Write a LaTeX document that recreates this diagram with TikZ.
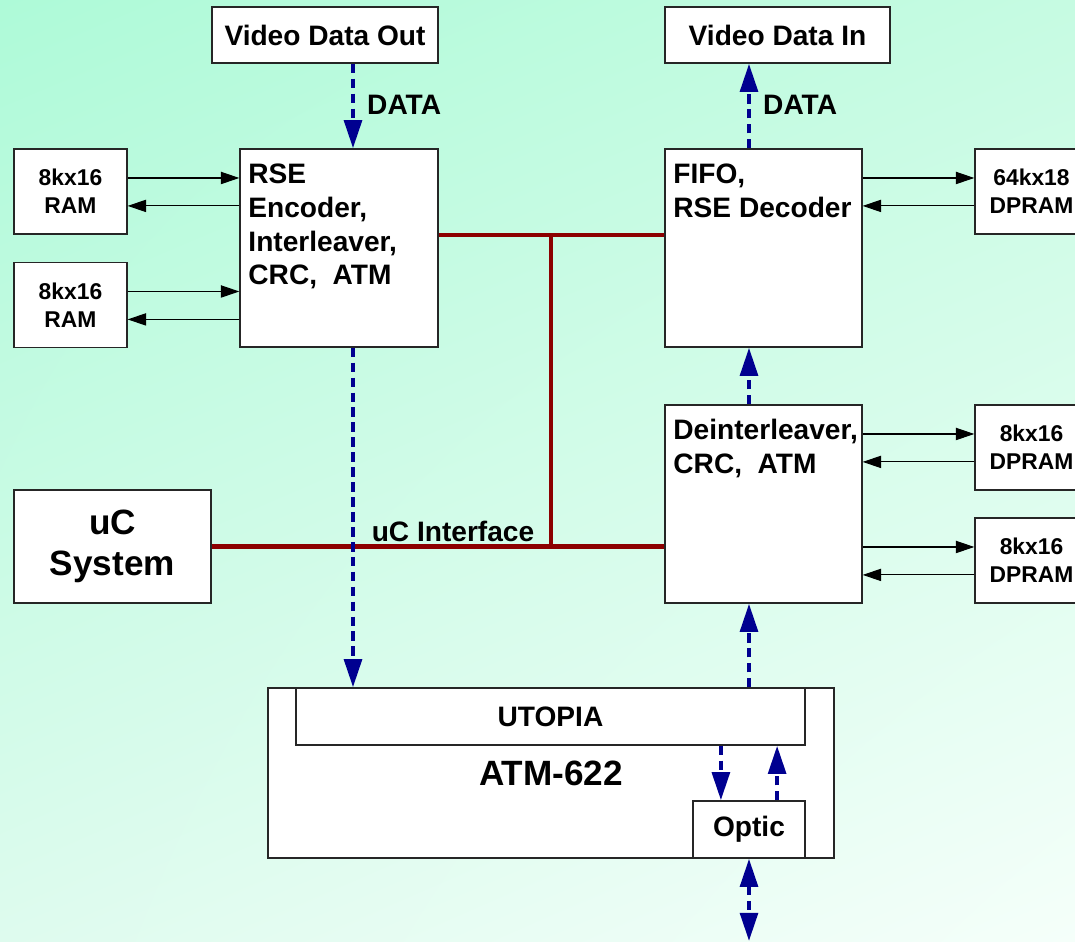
\documentclass[tikz,border=0pt]{standalone}
\usepackage{fontspec}
\setmainfont{Liberation Sans}
\usetikzlibrary{arrows.meta,shadings}

\definecolor{busred}{HTML}{8C0000}
\definecolor{linkblue}{HTML}{000090}
\definecolor{bgmint}{HTML}{AEFAD8}
\definecolor{bgtopright}{HTML}{C6FBE2}
\definecolor{bgbotleft}{HTML}{DEFBEE}
\definecolor{bgpale}{HTML}{F5FFFA}

\begin{document}
\begin{tikzpicture}[x=0.02cm,y=-0.02cm,
  box/.style={shape=rectangle,draw=black!85,line width=0.8pt,fill=white,inner sep=0pt},
  txt/.style={font=\fontsize{16}{19.3}\selectfont\bfseries},
  small/.style={font=\fontsize{13}{16}\selectfont\bfseries,align=center},
  big/.style={font=\fontsize{20}{23}\selectfont\bfseries,align=center},
  inside/.style={txt,anchor=north west,align=left,inner sep=0pt},
  sig/.style={-{Triangle[length=10.5pt,width=7pt]},line width=0.6pt},
  datalink/.style={linkblue,line width=2.3pt,dash pattern=on 5.5pt off 3pt,-{Triangle[length=16pt,width=10pt]}},
  bus/.style={busred,line width=2.3pt}]

%background
\useasboundingbox (0,0) rectangle (1075,941);
\clip (0,0) rectangle (1075,941);
\shade[upper left=bgmint,upper right=bgtopright,lower left=bgbotleft,lower right=bgpale] (0,0) rectangle (1075,941);

%video in and out
\node [box,txt,minimum width=226*0.02cm,minimum height=56*0.02cm] at (325,35) (vout) {Video Data Out};
\node [box,txt,minimum width=225*0.02cm,minimum height=56*0.02cm] at (777.5,35) (vin) {Video Data In};

%encoder side
\node [box,small,minimum width=113*0.02cm,minimum height=85*0.02cm] at (70.5,191.5) (ram1) {8kx16\\RAM};
\node [box,small,minimum width=113*0.02cm,minimum height=85*0.02cm] at (70.5,305) (ram2) {8kx16\\RAM};
\node [box,minimum width=198*0.02cm,minimum height=198*0.02cm] at (339,248) (rse) {};
\node [inside] at ([xshift=5pt,yshift=-8.5pt]rse.north west) (rsetext) {RSE\\Encoder,\\Interleaver,\\CRC,\ \ ATM};

%decoder side
\node [box,minimum width=197*0.02cm,minimum height=198*0.02cm] at (763.5,248) (fifo) {};
\node [inside] at ([xshift=5pt,yshift=-8.5pt]fifo.north west) (fifotext) {FIFO,\\RSE Decoder};
\node [box,small,minimum width=113*0.02cm,minimum height=85*0.02cm] at (1031.5,191.5) (dpram0) {64kx18\\DPRAM};

\node [box,minimum width=197*0.02cm,minimum height=198*0.02cm] at (763.5,504) (deint) {};
\node [inside] at ([xshift=5pt,yshift=-8.5pt]deint.north west) (deinttext) {Deinterleaver,\\CRC,\ \ ATM};
\node [box,small,minimum width=113*0.02cm,minimum height=85*0.02cm] at (1031.5,447.5) (dpram1) {8kx16\\DPRAM};
\node [box,small,minimum width=113*0.02cm,minimum height=85*0.02cm] at (1031.5,560.5) (dpram2) {8kx16\\DPRAM};

%micro controller
\node [box,big,minimum width=197*0.02cm,minimum height=113*0.02cm] at (112.5,546.5) (uc) {uC\\System};

%ATM chip
\node [box,big,minimum width=566*0.02cm,minimum height=170*0.02cm] at (551,773) (atm) {ATM-622};
\node [box,txt,minimum width=509*0.02cm,minimum height=57*0.02cm] at (550.5,716.5) (utopia) {UTOPIA};
\node [box,txt,minimum width=112*0.02cm,minimum height=57*0.02cm] at (749,829.5) (optic) {Optic};

%RAM links
\draw [sig] ([yshift=7.7pt]ram1.east) -- ([yshift=7.7pt]ram1.east -| rse.west);
\draw [sig] ([yshift=-8.2pt]ram1.east -| rse.west) -- ([yshift=-8.2pt]ram1.east);
\draw [sig] ([yshift=7.7pt]ram2.east) -- ([yshift=7.7pt]ram2.east -| rse.west);
\draw [sig] ([yshift=-8.2pt]ram2.east -| rse.west) -- ([yshift=-8.2pt]ram2.east);
\draw [sig] ([yshift=7.7pt]dpram0.west -| fifo.east) -- ([yshift=7.7pt]dpram0.west);
\draw [sig] ([yshift=-8.2pt]dpram0.west) -- ([yshift=-8.2pt]dpram0.west -| fifo.east);
\draw [sig] ([yshift=7.7pt]dpram1.west -| deint.east) -- ([yshift=7.7pt]dpram1.west);
\draw [sig] ([yshift=-8.2pt]dpram1.west) -- ([yshift=-8.2pt]dpram1.west -| deint.east);
\draw [sig] ([yshift=7.7pt]dpram2.west -| deint.east) -- ([yshift=7.7pt]dpram2.west);
\draw [sig] ([yshift=-8.2pt]dpram2.west) -- ([yshift=-8.2pt]dpram2.west -| deint.east);

%uC bus
\coordinate (tap) at (551,235);
\draw [bus] (rse.east |- tap) -- (fifo.west |- tap);
\draw [bus] (uc.east) -- (deint.west |- uc.east);
\draw [bus] (tap) -- (tap |- uc.east);
\node [txt] at (453,531) (ucif) {uC Interface};

%data path
\coordinate (lx) at (353,0);
\coordinate (rx) at (749,0);
\coordinate (fibre) at (749,941);
\draw [datalink] (vout.south -| lx) -- (rse.north -| lx);
\node [txt,anchor=west] at (361,105) (dataout) {DATA};
\draw [datalink] (fifo.north -| rx) -- (vin.south -| rx);
\node [txt,anchor=west] at (757,105) (datain) {DATA};
\draw [datalink] (rse.south -| lx) -- (utopia.north -| lx);
\draw [datalink] (deint.north -| rx) -- (fifo.south -| rx);
\draw [datalink] (utopia.north -| rx) -- (deint.south -| rx);
\draw [datalink] ([xshift=-16pt]utopia.south -| optic.north) -- ([xshift=-16pt]optic.north);
\draw [datalink] ([xshift=16pt]optic.north) -- ([xshift=16pt]utopia.south -| optic.north);
\draw [datalink,{Triangle[length=16pt,width=10pt]}-{Triangle[length=16pt,width=10pt]}] (optic.south) -- (fibre);
\end{tikzpicture}
\end{document}
